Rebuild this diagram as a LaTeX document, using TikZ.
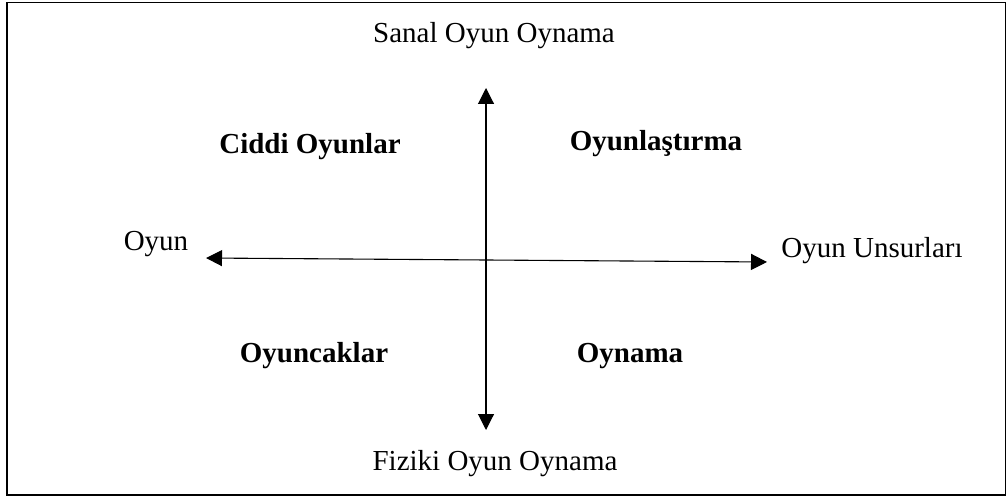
\documentclass[tikz,border=0pt]{standalone}
\usepackage{fontspec}
\setmainfont{Liberation Serif}
\usetikzlibrary{arrows.meta}
\begin{document}
\begin{tikzpicture}[x=1pt,y=-1pt,
  lbl/.style={font=\fontsize{29}{34}\selectfont, anchor=base, inner sep=0pt},
  blbl/.style={lbl, font=\fontsize{29}{34}\selectfont\bfseries},
  axis/.style={line width=1.1pt, {Triangle[length=16pt,width=16pt]}-{Triangle[length=16pt,width=16pt]}},
  frame/.style={line width=1.8pt}]
\useasboundingbox (0,0) rectangle (1008,497);
\draw[frame] (7,2.5) rectangle (1005.5,495);
% axis ends
\coordinate (top) at (486,88);
\coordinate (bot) at (486,430);
\coordinate (lft) at (206,258);
\coordinate (rgt) at (767,262);
\draw[axis] (bot) -- (top);
\draw[axis] (lft) -- (rgt);
% labels
\node[lbl] (sanal) at (494,43) {Sanal Oyun Oynama};
\node[lbl] (fiziki) at (495,470) {Fiziki Oyun Oynama};
\node[lbl] (oyun) at (156,250) {Oyun};
\node[lbl] (unsur) at (872,257) {Oyun Unsurları};
\node[blbl] (ciddi) at (310,154) {Ciddi Oyunlar};
\node[blbl] (oyunl) at (656,150) {Oyunlaştırma};
\node[blbl] (oyunc) at (314,362) {Oyuncaklar};
\node[blbl] (oynama) at (630,362) {Oynama};
\end{tikzpicture}
\end{document}
